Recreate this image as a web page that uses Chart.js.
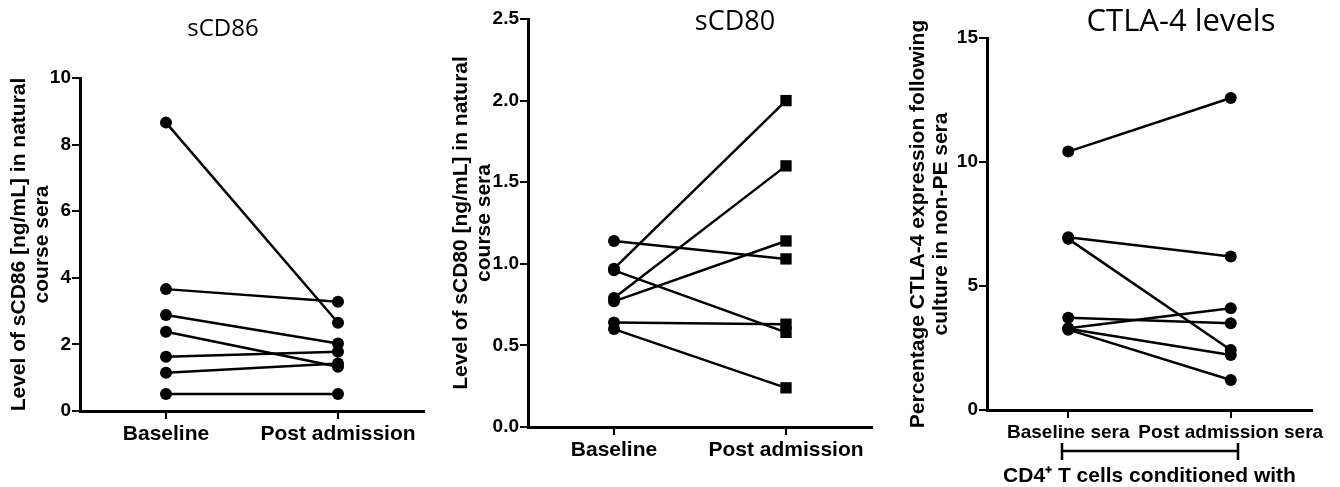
<!DOCTYPE html>
<html>
<head>
<meta charset="utf-8">
<script src="https://cdn.jsdelivr.net/npm/chart.js@4.4.1/dist/chart.umd.min.js"></script>
<style>
  body { margin: 0; background: #fff; }
  canvas { position: absolute; top: 0; }
</style>
</head>
<body>
<canvas id="cd86" width="440" height="487" style="left:0px"></canvas>
<canvas id="cd80" width="440" height="487" style="left:440px"></canvas>
<canvas id="ctla" width="460" height="487" style="left:880px"></canvas>
<script>
// paired samples: baseline value -> post admission value, one line per patient
const categories = ['Baseline', 'Post admission'];
const cd86Baseline = [8.66, 3.66, 2.88, 2.38, 1.63, 1.15, 0.51];
const cd86Post     = [2.65, 3.28, 2.03, 1.33, 1.78, 1.43, 0.51];

const cd80Baseline = [0.97, 0.79, 0.77, 1.14, 0.96, 0.64, 0.60];
const cd80Post     = [2.00, 1.60, 1.14, 1.03, 0.58, 0.63, 0.24];

const ctlaCategories = ['Baseline sera', 'Post admission sera'];
const ctlaBaseline = [10.42, 6.97, 6.90, 3.72, 3.30, 3.28, 3.24];
const ctlaPost     = [12.58, 6.19, 2.42, 3.50, 4.10, 2.22, 1.21];

const SANS = '"Liberation Sans", Arial, sans-serif';
const NARROW = '"Liberation Sans Narrow", "Liberation Sans", Arial, sans-serif';
const TITLE_FONT = '"Open Sans", sans-serif';

function pairLines(base, post, endStyle) {
  const endR = endStyle === 'rect' ? 8 : 6;
  return base.map((b, i) => ({
    data: [b, post[i]],
    borderColor: '#000',
    borderWidth: 2.5,
    backgroundColor: '#000',
    pointBackgroundColor: '#000',
    pointBorderWidth: 0,
    pointStyle: ['circle', endStyle],
    pointRadius: [6, endR],
    pointHoverRadius: [6, endR],
    tension: 0,
    clip: false
  }));
}

// titles and the bracket under the third panel
const freeText = {
  id: 'freeText',
  afterDraw(chart, args, opts) {
    const ctx = chart.ctx;
    ctx.save();
    ctx.fillStyle = '#000';
    ctx.textAlign = 'center';
    ctx.textBaseline = 'middle';
    (opts.items || []).forEach(t => {
      ctx.font = t.font;
      ctx.fillText(t.text, t.x, t.y);
    });
    if (opts.bracket) {
      const b = opts.bracket;
      ctx.strokeStyle = '#000';
      ctx.lineWidth = 2.5;
      ctx.beginPath();
      ctx.moveTo(b.x1, b.y); ctx.lineTo(b.x2, b.y);
      ctx.moveTo(b.x1, b.y - 8); ctx.lineTo(b.x1, b.y + 9);
      ctx.moveTo(b.x2, b.y - 8); ctx.lineTo(b.x2, b.y + 9);
      ctx.stroke();
    }
    ctx.restore();
  }
};

function makeChart(id, p) {
  return new Chart(document.getElementById(id), {
    type: 'line',
    data: { labels: p.labels, datasets: p.datasets },
    plugins: [freeText],
    options: {
      responsive: false,
      animation: false,
      events: [],
      layout: { padding: { left: 0, right: p.padRight, top: p.top, bottom: 0 } },
      plugins: {
        legend: { display: false },
        tooltip: { enabled: false },
        freeText: p.free
      },
      scales: {
        x: {
          type: 'category',
          offset: true,
          grid: { display: true, drawOnChartArea: false, drawTicks: true, tickLength: 8, color: '#000', lineWidth: 2 },
          border: { display: true, color: '#000', width: 3 },
          ticks: { color: '#000', font: { family: SANS, size: p.xFont, weight: 'bold' }, padding: 3, maxRotation: 0, autoSkip: false },
          title: p.xTitle || { display: false },
          afterFit: s => { s.height = p.xHeight; }
        },
        y: {
          min: 0,
          max: p.yMax,
          ticks: {
            stepSize: p.yStep,
            color: '#000',
            padding: 1,
            font: { family: NARROW, size: 19, weight: 'bold' },
            callback: v => p.yDec ? v.toFixed(p.yDec) : v
          },
          grid: { display: true, drawOnChartArea: false, drawTicks: true, tickLength: 8, color: '#000', lineWidth: 2 },
          border: { display: true, color: '#000', width: 3 },
          title: {
            display: true,
            text: p.yTitle,
            color: '#000',
            font: { family: SANS, size: 21, weight: 'bold', lineHeight: 1.1 },
            padding: { top: p.yTitlePad, bottom: 0 }
          },
          afterFit: s => { s.width = p.yWidth; }
        }
      }
    }
  });
}

makeChart('cd86', {
  labels: categories,
  datasets: pairLines(cd86Baseline, cd86Post, 'circle'),
  yMax: 10, yStep: 2, yDec: 0,
  yTitle: ['Level of sCD86 [ng/mL] in natural', 'course sera'],
  yTitlePad: 8, yWidth: 80, xHeight: 76, top: 78, padRight: 16, xFont: 21,
  free: { items: [{ text: 'sCD86', x: 223, y: 29, font: '24px ' + TITLE_FONT }] }
});

makeChart('cd80', {
  labels: categories,
  datasets: pairLines(cd80Baseline, cd80Post, 'rect'),
  yMax: 2.5, yStep: 0.5, yDec: 1,
  yTitle: ['Level of sCD80 [ng/mL] in natural', 'course sera'],
  yTitlePad: 10, yWidth: 88, xHeight: 60, top: 19, padRight: 8, xFont: 21,
  free: { items: [{ text: 'sCD80', x: 295, y: 22, font: '27px ' + TITLE_FONT }] }
});

makeChart('ctla', {
  labels: ctlaCategories,
  datasets: pairLines(ctlaBaseline, ctlaPost, 'circle'),
  yMax: 15, yStep: 5, yDec: 0,
  yTitle: ['Percentage CTLA-4 expression following', 'culture in non-PE sera'],
  yTitlePad: 27, yWidth: 107, xHeight: 77, top: 38, padRight: 28, xFont: 19,
  xTitle: {
    display: true,
    text: 'CD4\u207A T cells conditioned with',
    color: '#000',
    font: { family: SANS, size: 21, weight: 'bold', lineHeight: 1.0 },
    padding: { top: 0, bottom: 0 }
  },
  free: {
    items: [{ text: 'CTLA-4 levels', x: 301, y: 22, font: '31px ' + TITLE_FONT }],
    bracket: { x1: 182, x2: 358, y: 451 }
  }
});
</script>
</body>
</html>
